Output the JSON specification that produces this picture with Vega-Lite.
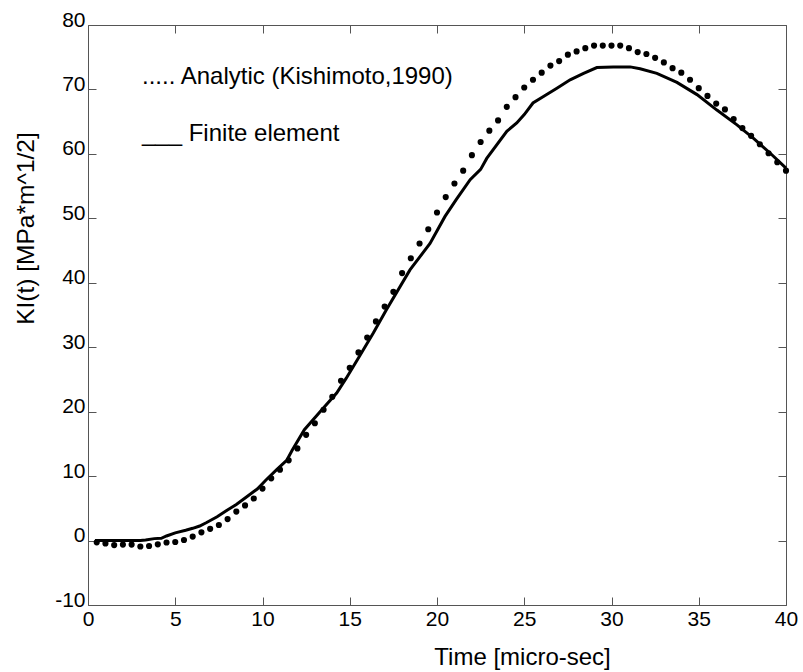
{
  "$schema": "https://vega.github.io/schema/vega-lite/v6.json",
  "width": 698,
  "height": 580,
  "autosize": "none",
  "padding": {"left": 88, "top": 25, "right": 17, "bottom": 67},
  "background": "white",
  "datasets": {
    "analytic": [
      {"t": 0.5, "KI": -0.27}, {"t": 1.0, "KI": -0.45}, {"t": 1.5, "KI": -0.7}, {"t": 2.0, "KI": -0.63},
      {"t": 2.5, "KI": -0.63}, {"t": 3.0, "KI": -0.92}, {"t": 3.5, "KI": -0.85}, {"t": 4.0, "KI": -0.58},
      {"t": 4.5, "KI": -0.3}, {"t": 5.0, "KI": -0.22}, {"t": 5.5, "KI": 0.09}, {"t": 6.0, "KI": 0.61},
      {"t": 6.5, "KI": 1.28}, {"t": 7.0, "KI": 1.82}, {"t": 7.5, "KI": 2.42}, {"t": 8.0, "KI": 3.33},
      {"t": 8.5, "KI": 4.49}, {"t": 9.0, "KI": 5.45}, {"t": 9.5, "KI": 6.53}, {"t": 10.0, "KI": 8.06},
      {"t": 10.5, "KI": 9.65}, {"t": 11.0, "KI": 11.0}, {"t": 11.5, "KI": 12.45}, {"t": 12.0, "KI": 14.3},
      {"t": 12.5, "KI": 16.4}, {"t": 13.0, "KI": 18.2}, {"t": 13.5, "KI": 20.3}, {"t": 14.0, "KI": 22.3},
      {"t": 14.5, "KI": 24.8}, {"t": 15.0, "KI": 26.8}, {"t": 15.5, "KI": 29.2}, {"t": 16.0, "KI": 31.5},
      {"t": 16.5, "KI": 34.0}, {"t": 17.0, "KI": 36.3}, {"t": 17.5, "KI": 38.6}, {"t": 18.0, "KI": 41.5},
      {"t": 18.5, "KI": 43.8}, {"t": 19.0, "KI": 46.1}, {"t": 19.5, "KI": 48.3}, {"t": 20.0, "KI": 50.9},
      {"t": 20.5, "KI": 53.3}, {"t": 21.0, "KI": 55.4}, {"t": 21.5, "KI": 57.4}, {"t": 22.0, "KI": 59.8},
      {"t": 22.5, "KI": 61.85}, {"t": 23.0, "KI": 63.6}, {"t": 23.5, "KI": 65.2}, {"t": 24.0, "KI": 67.3},
      {"t": 24.5, "KI": 68.8}, {"t": 25.0, "KI": 70.3}, {"t": 25.5, "KI": 71.5}, {"t": 26.0, "KI": 72.6},
      {"t": 26.5, "KI": 73.7}, {"t": 27.0, "KI": 74.4}, {"t": 27.5, "KI": 75.4}, {"t": 28.0, "KI": 75.9},
      {"t": 28.5, "KI": 76.4}, {"t": 29.0, "KI": 76.8}, {"t": 29.5, "KI": 76.8}, {"t": 30.0, "KI": 76.8},
      {"t": 30.5, "KI": 76.8}, {"t": 31.0, "KI": 76.4}, {"t": 31.5, "KI": 75.8}, {"t": 32.0, "KI": 75.5},
      {"t": 32.5, "KI": 74.9}, {"t": 33.0, "KI": 74.2}, {"t": 33.5, "KI": 73.3}, {"t": 34.0, "KI": 72.6},
      {"t": 34.5, "KI": 71.5}, {"t": 35.0, "KI": 70.2}, {"t": 35.5, "KI": 69.0}, {"t": 36.0, "KI": 67.8},
      {"t": 36.5, "KI": 66.9}, {"t": 37.0, "KI": 65.4}, {"t": 37.5, "KI": 64.0}, {"t": 38.0, "KI": 62.8},
      {"t": 38.5, "KI": 61.5}, {"t": 39.0, "KI": 60.1}, {"t": 39.5, "KI": 58.7}, {"t": 40.0, "KI": 57.4}
    ],
    "fe": [
      {"t": 0.4, "KI": 0.0}, {"t": 1.0, "KI": 0.0}, {"t": 2.0, "KI": 0.0}, {"t": 3.0, "KI": 0.0},
      {"t": 3.3, "KI": 0.1}, {"t": 3.8, "KI": 0.3}, {"t": 4.2, "KI": 0.35}, {"t": 4.5, "KI": 0.71},
      {"t": 5.0, "KI": 1.2}, {"t": 5.6, "KI": 1.6}, {"t": 6.0, "KI": 1.9}, {"t": 6.4, "KI": 2.26},
      {"t": 6.8, "KI": 2.8}, {"t": 7.4, "KI": 3.7}, {"t": 7.9, "KI": 4.6}, {"t": 8.5, "KI": 5.6},
      {"t": 9.1, "KI": 6.8}, {"t": 9.7, "KI": 8.0}, {"t": 10.2, "KI": 9.4}, {"t": 10.8, "KI": 10.96},
      {"t": 11.4, "KI": 12.5}, {"t": 11.7, "KI": 14.0}, {"t": 12.4, "KI": 17.2}, {"t": 13.3, "KI": 20.0}, {"t": 14.25, "KI": 22.9},
      {"t": 14.8, "KI": 25.2}, {"t": 15.6, "KI": 28.8}, {"t": 16.35, "KI": 32.2}, {"t": 17.1, "KI": 35.8},
      {"t": 18.45, "KI": 42.0}, {"t": 19.6, "KI": 46.1}, {"t": 20.46, "KI": 50.3}, {"t": 21.1, "KI": 52.9},
      {"t": 21.9, "KI": 56.0}, {"t": 22.5, "KI": 57.6}, {"t": 22.85, "KI": 59.3}, {"t": 24.0, "KI": 63.5},
      {"t": 24.57, "KI": 64.8}, {"t": 25.0, "KI": 66.1}, {"t": 25.5, "KI": 67.9}, {"t": 26.1, "KI": 68.9},
      {"t": 26.87, "KI": 70.2}, {"t": 27.63, "KI": 71.5}, {"t": 28.4, "KI": 72.5}, {"t": 29.16, "KI": 73.4},
      {"t": 30.1, "KI": 73.5}, {"t": 31.07, "KI": 73.5}, {"t": 31.64, "KI": 73.2}, {"t": 32.6, "KI": 72.5},
      {"t": 33.75, "KI": 71.1}, {"t": 34.9, "KI": 69.2}, {"t": 36.04, "KI": 66.8}, {"t": 37.19, "KI": 64.5},
      {"t": 38.14, "KI": 62.4}, {"t": 39.1, "KI": 60.1}, {"t": 40.0, "KI": 57.8}
    ]
  },
  "layer": [
    {
      "data": {"name": "fe"},
      "transform": [{"calculate": "'Finite element'", "as": "series"}],
      "mark": {"type": "line", "strokeWidth": 3, "color": "black"},
      "encoding": {
        "x": {"field": "t", "type": "quantitative", "scale": {"domain": [0, 40], "nice": false, "zero": false},
              "axis": {"orient": "top", "labels": false, "title": null, "tickSize": -8, "values": [0, 5, 10, 15, 20, 25, 30, 35, 40]}},
        "y": {"field": "KI", "type": "quantitative", "scale": {"domain": [-10, 80], "nice": false, "zero": false},
              "axis": {"orient": "right", "labels": false, "title": null, "tickSize": -8, "values": [-10, 0, 10, 20, 30, 40, 50, 60, 70, 80]}},
        "color": {"field": "series", "type": "nominal",
                  "scale": {"domain": ["Analytic (Kishimoto,1990)", "Finite element"], "range": ["black", "black"]},
                  "legend": {"orient": "none", "legendX": 30, "legendY": 40, "title": null,
                             "labelExpr": "datum.label == 'Finite element' ? '___ Finite element' : '..... ' + datum.label"}}
      }
    },
    {
      "data": {"name": "analytic"},
      "transform": [{"calculate": "'Analytic (Kishimoto,1990)'", "as": "series"}],
      "mark": {"type": "point", "filled": true, "size": 38, "opacity": 1, "color": "black"},
      "encoding": {
        "x": {"field": "t", "type": "quantitative",
              "axis": {"orient": "bottom", "title": "Time [micro-sec]", "values": [0, 5, 10, 15, 20, 25, 30, 35, 40],
                       "tickSize": -8, "labelPadding": 11,
                       "titleX": 434, "titleY": 59, "titleBaseline": "alphabetic", "titleAnchor": null}},
        "y": {"field": "KI", "type": "quantitative",
              "axis": {"orient": "left", "title": "KI(t) [MPa*m^1/2]", "values": [-10, 0, 10, 20, 30, 40, 50, 60, 70, 80],
                       "tickSize": -8, "labelPadding": 11, "titleFontSize": 24.5,
                       "labelExpr": "'' + datum.value",
                       "titleX": -55, "titleY": 203, "titleBaseline": "alphabetic", "titleAngle": 270,
                       "labelBaseline": "alphabetic", "labelOffset": 1}},
        "color": {"field": "series", "type": "nominal"}
      }
    }
  ],
  "resolve": {"axis": {"x": "independent", "y": "independent"}},
  "config": {
    "view": {"stroke": null},
    "font": "Liberation Sans",
    "axis": {
      "grid": false,
      "labelFont": "Liberation Sans",
      "titleFont": "Liberation Sans",
      "labelFontSize": 21,
      "titleFontSize": 24,
      "titleFontWeight": "normal",
      "labelColor": "black",
      "titleColor": "black",
      "domainColor": "#555555",
      "tickColor": "#555555",
      "labelFlush": false,
      "labelOverlap": false
    },
    "legend": {
      "labelFont": "Liberation Sans",
      "labelFontSize": 24,
      "labelColor": "black",
      "symbolSize": 0,
      "symbolOpacity": 0,
      "symbolStrokeWidth": 0,
      "labelOffset": 0,
      "rowPadding": 33,
      "padding": 0,
      "labelLimit": 500
    }
  }
}
